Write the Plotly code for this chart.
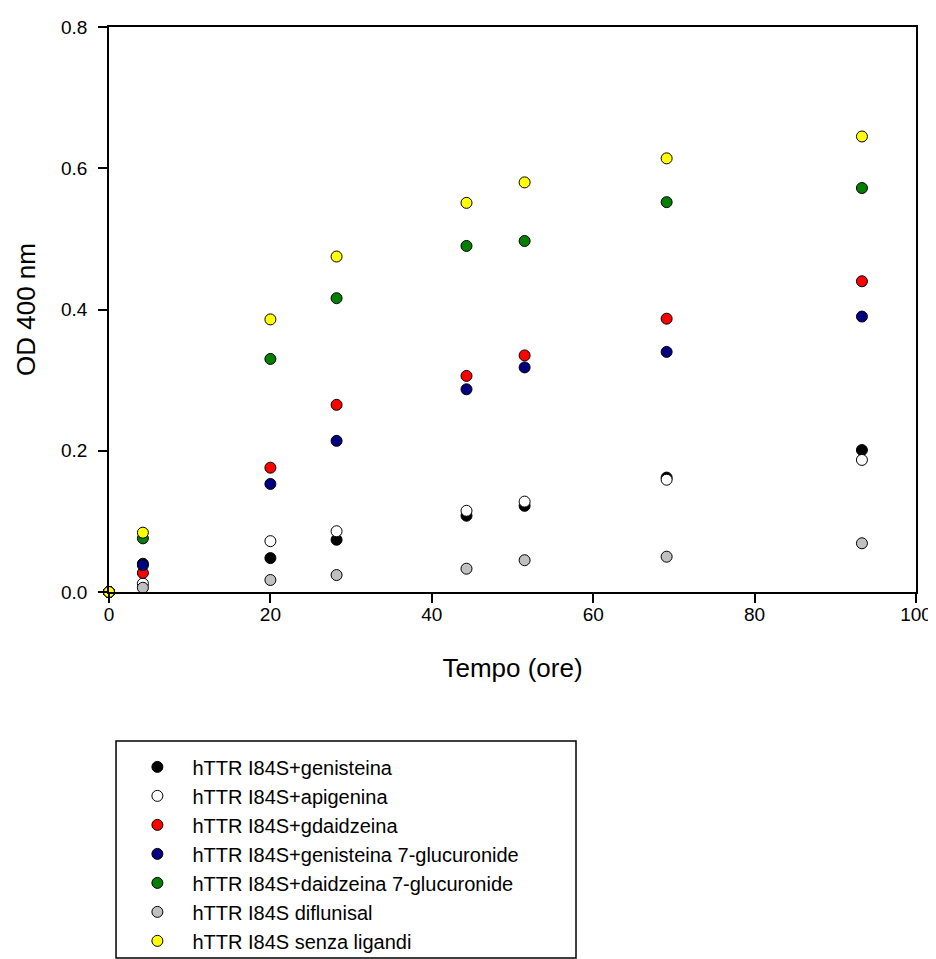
import plotly.graph_objects as go

x_hours = [0, 4.2, 20.0, 28.2, 44.3, 51.5, 69.1, 93.3]

series_names = [
    "hTTR I84S+genisteina",
    "hTTR I84S+apigenina",
    "hTTR I84S+gdaidzeina",
    "hTTR I84S+genisteina 7-glucuronide",
    "hTTR I84S+daidzeina 7-glucuronide",
    "hTTR I84S diflunisal",
    "hTTR I84S senza ligandi",
]

genisteina = [0, 0.040, 0.048, 0.074, 0.108, 0.122, 0.162, 0.201]
apigenina = [0, 0.012, 0.072, 0.086, 0.115, 0.128, 0.159, 0.187]
gdaidzeina = [0, 0.027, 0.176, 0.265, 0.306, 0.335, 0.387, 0.440]
genisteina_7g = [0, 0.038, 0.153, 0.214, 0.287, 0.318, 0.340, 0.390]
daidzeina_7g = [0, 0.076, 0.330, 0.416, 0.490, 0.497, 0.552, 0.572]
diflunisal = [0, 0.006, 0.017, 0.024, 0.033, 0.045, 0.050, 0.069]
senza_ligandi = [0, 0.084, 0.386, 0.475, 0.551, 0.580, 0.614, 0.645]

series_values = [genisteina, apigenina, gdaidzeina, genisteina_7g,
                 daidzeina_7g, diflunisal, senza_ligandi]
series_colors = ["#000000", "#ffffff", "#ff0000", "#000080",
                 "#007f00", "#c0c0c0", "#ffff00"]

x_ticks = [0, 20, 40, 60, 80, 100]
y_ticks = [0.0, 0.2, 0.4, 0.6, 0.8]
y_tick_labels = ["0.0", "0.2", "0.4", "0.6", "0.8"]

FONT = "Liberation Sans, Arial, sans-serif"

fig = go.Figure()
for name, vals, col in zip(series_names, series_values, series_colors):
    fig.add_trace(go.Scatter(
        x=x_hours, y=vals, mode="markers", name=name,
        marker=dict(size=11, color=col, line=dict(color="#000000", width=1)),
        cliponaxis=False,
    ))

axis_common = dict(
    showgrid=False, zeroline=False, showline=True, linecolor="#000000",
    linewidth=1.5, mirror=True, ticks="outside", ticklen=9, tickwidth=1.5,
    tickcolor="#000000", tickfont=dict(family=FONT, size=19, color="#000000"),
)

fig.update_xaxes(
    range=[0, 100], tickvals=x_ticks, ticklabelstandoff=-5,
    title=dict(text="Tempo (ore)", font=dict(family=FONT, size=26, color="#000000"), standoff=35),
    **axis_common,
)
fig.update_yaxes(
    range=[0, 0.8], tickvals=y_ticks, ticktext=y_tick_labels,
    ticklabelstandoff=7,
    title=dict(text="OD 400 nm", font=dict(family=FONT, size=26, color="#000000"), standoff=18),
    **axis_common,
)

fig.add_shape(type="rect", xref="paper", yref="paper",
              x0=0.0087, x1=0.5787, y0=-0.2637, y1=-0.648,
              line=dict(color="#000000", width=1.5), fillcolor="rgba(0,0,0,0)")

fig.update_layout(
    width=928, height=951,
    margin=dict(l=101, r=20, t=19, b=367, autoexpand=False),
    paper_bgcolor="#ffffff", plot_bgcolor="#ffffff",
    font=dict(family=FONT, color="#000000"),
    legend=dict(
        x=0.0166, y=-0.275, xanchor="left", yanchor="top",
        font=dict(family=FONT, size=20, color="#000000"),
        bgcolor="rgba(0,0,0,0)", borderwidth=0,
        itemwidth=60,
    ),
    showlegend=True,
)

fig.write_html("out.html")
